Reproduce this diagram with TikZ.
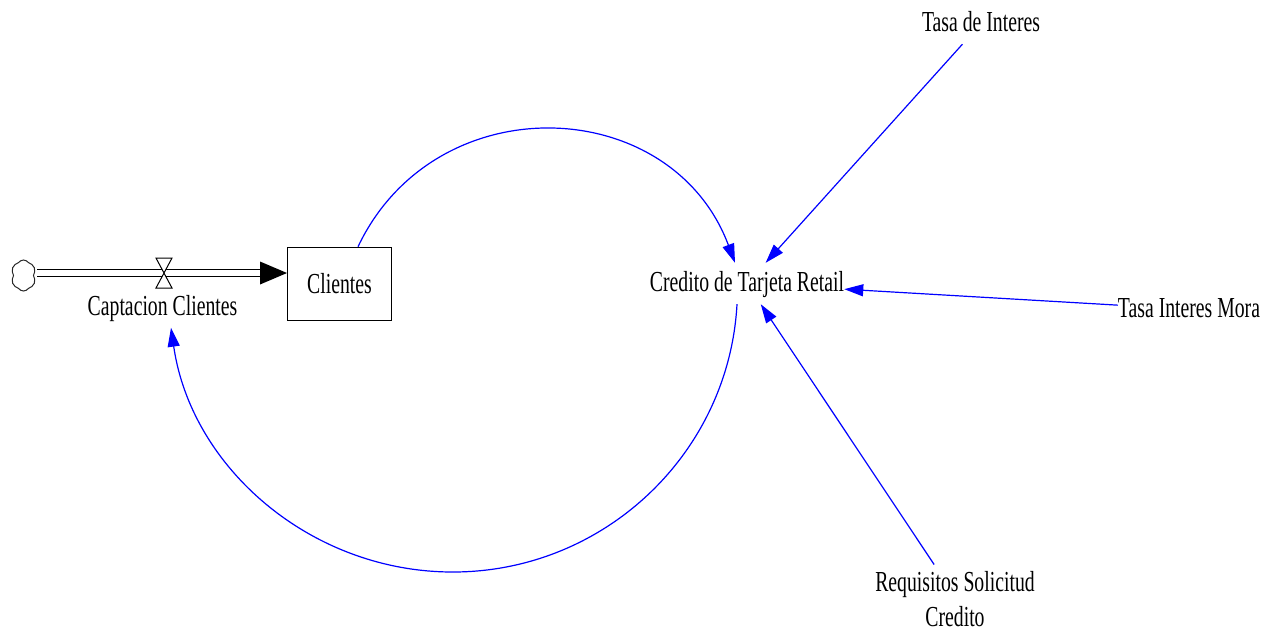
\documentclass[tikz,border=0pt]{standalone}
\usepackage{fontspec}
\setmainfont{Liberation Serif}[FakeStretch=0.68]
\usetikzlibrary{arrows.meta,shapes.symbols}
\begin{document}
\begin{tikzpicture}[x=1pt,y=-1pt,
  txt/.style={inner sep=0pt, font=\fontsize{29}{35}\selectfont},
  lbl/.style={txt, text height=28.5pt, text depth=12.5pt},
  conn/.style={draw=blue, line width=1.2pt, -{Triangle[length=19pt,width=12pt]}},
  pipe/.style={draw=black, double=white, double distance=6pt, line width=1.4pt},
  stockbox/.style={draw=black, line width=1pt, inner sep=0pt, minimum width=104pt, minimum height=73pt, font=\fontsize{29}{35}\selectfont},
  valveshape/.style={draw=black, fill=white, line width=1pt}
]
\useasboundingbox (0,0) rectangle (1273,633);

% nodes
\node[stockbox] (clientes) at (339.5,283.7) {Clientes};
\node[lbl] (credito) at (747,283.5) {Credito de Tarjeta Retail};
\node[lbl] (tasa) at (981,23.5) {Tasa de Interes};
\node[lbl] (mora) at (1189,309.3) {Tasa Interes Mora};
\node[lbl] (captacion) at (162.5,307) {Captacion Clientes};
\node[txt, align=center, anchor=north] (requisitos) at (955,564.5)
  {\rule{0pt}{26.5pt}Requisitos Solicitud\\Credito\rule[-1pt]{0pt}{1pt}};
\node[cloud, draw=black!85, line width=1pt, cloud puffs=6, cloud puff arc=110, aspect=0.82,
      minimum width=25pt, minimum height=31pt, inner sep=0pt] (cloud) at (23.5,275.5) {};

% flow pipe
\coordinate (pipeL) at (37,273);
\coordinate (pipeR) at (clientes.west |- pipeL);
\draw[pipe, shorten >=26pt] (pipeL) -- (pipeR);
\fill[black] (pipeR) -- ++(-27,-11.5) -- ++(0,23) -- cycle;

% valve
\coordinate (valve) at (164,273);
\draw[valveshape] ([shift={(-8,-15)}]valve) -- ([shift={(8,-15)}]valve)
  -- ([shift={(-8,15)}]valve) -- ([shift={(8,15)}]valve) -- cycle;

% connectors
\draw[conn] ([xshift=18.5pt]clientes.north) .. controls (435.6,83.7) and (671.7,93.6)
  .. ([xshift=-12pt]credito.north);
\coordinate (loopbot) at (452.8,572);
\draw[conn] ([xshift=-10pt]credito.south) .. controls (728.8,453.8) and (604,572)
  .. (loopbot) .. controls (311.3,572) and (191.3,468.1) .. ([xshift=8.5pt]captacion.south);
\draw[conn] (tasa) -- (credito);
\draw[conn] (mora) -- (credito);
\draw[conn] (requisitos) -- (credito);
\end{tikzpicture}
\end{document}
